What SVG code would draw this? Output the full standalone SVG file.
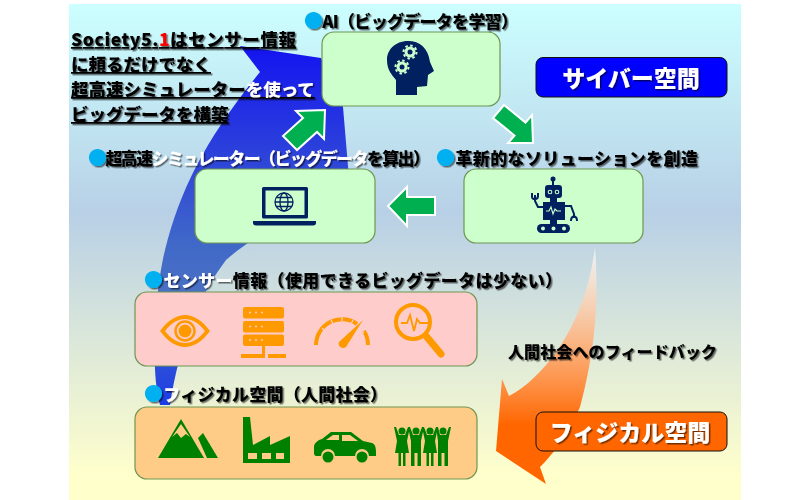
<svg xmlns="http://www.w3.org/2000/svg" width="800" height="500" viewBox="0 0 800 500">
<style>
text{font-family:"Noto Sans CJK JP","Noto Sans",sans-serif;font-weight:900;fill:#000}
.t{font-size:17px;filter:url(#sh)}
.lead{font-size:17.5px;filter:url(#sh);text-decoration:underline}
.dot{fill:#00b0f0;font-size:19px}
.w{fill:#fff}
.box{stroke:#6f9650;stroke-width:1.2}
.arrow{fill:#00b050;stroke:#fff;stroke-width:2}
.navy{fill:#002060}
.or{fill:#ff9900}
.gr{fill:#008000}
</style>
<defs>
<linearGradient id="bg" x1="0" y1="0" x2="0" y2="1"><stop offset="0" stop-color="#ccffff"/><stop offset=".42" stop-color="#b8d0e6"/><stop offset=".95" stop-color="#ffffcc"/></linearGradient>
<linearGradient id="blue" x1="0" y1="0" x2="0" y2="1"><stop offset="0" stop-color="#1414f0"/><stop offset=".55" stop-color="#4068c8"/><stop offset=".68" stop-color="#4a70c4"/><stop offset="1" stop-color="#1c3ce4"/></linearGradient>
<linearGradient id="orange" x1="0" y1="0" x2="0" y2="1"><stop offset="0" stop-color="#fff" stop-opacity=".7"/><stop offset=".75" stop-color="#ff6600"/><stop offset="1" stop-color="#ff6600"/></linearGradient>
<filter id="sh" x="-5%" y="-20%" width="110%" height="150%"><feDropShadow dx="1.5" dy="1.5" stdDeviation=".7" flood-color="#000" flood-opacity=".55"/></filter>
</defs>
<rect width="800" height="500" fill="#fff"/>
<rect x="69" y="4" width="672" height="496" fill="url(#bg)"/>
<g id="connectors">
<path d="M240 46L321 58L343 107L350 190C320 200 260 230 226 260C200 295 180 340 170 405L160 405C150 370 155 290 165 250C180 190 205 140 260 72Z" fill="url(#blue)"/>
<path d="M595 247C598 290 598 340 580 407C568 435 552 455 540 467L546 484L496 451L502 379L509 396C540 380 585 330 595 247Z" fill="url(#orange)"/>
<polygon class="arrow" points="325,110 324,139 317,132 297,150 283,136 303,118 296,111"/>
<polygon class="arrow" points="533,143 532,115 525.5,122.500 504,105 493,118 514.500,135.500 508,143"/>
<polygon class="arrow" points="388,206 407,187 407,197 435,197 435,215 407,215 407,226"/>
</g>
<g id="node-ai">
<rect class="box" x="322" y="32" width="178" height="74" rx="12" fill="#ccffcc"/>
<path class="navy" d="M396 95L417 95L417 87L427 86L428 75L434 71L430 62C428 48 420 41 408 41C395 41 387 50 387 60C387 70 392 75 396 80Z"/>
<g fill="#ccffcc"><circle cx="410" cy="52" r="5.500"/><circle cx="402" cy="67" r="5.500"/></g>
<g fill="none" stroke="#ccffcc" stroke-width="2" stroke-dasharray="2.500 2.500"><circle cx="410" cy="52" r="6.500"/><circle cx="402" cy="67" r="6.500"/></g>
<circle class="navy" cx="410" cy="52" r="2.500"/><circle class="navy" cx="402" cy="67" r="2.500"/>
<text class="t" x="304" y="28" textLength="214"><tspan class="dot">●</tspan>AI（ビッグデータを学習）</text>
</g>
<g id="node-sim">
<rect class="box" x="195" y="169" width="180" height="74" rx="12" fill="#ccffcc"/>
<rect class="navy" x="262" y="187" width="46" height="31.500" rx="1.500"/>
<rect x="265.500" y="190.500" width="39" height="24.500" fill="#ccffcc"/>
<path class="navy" d="M253 221H316V223C316 224.500 315 225.500 313 225.500H256C254 225.500 253 224.500 253 223Z"/>
<g fill="none" stroke="#002060" stroke-width="1.300"><circle cx="284" cy="202" r="9"/><ellipse cx="284" cy="202" rx="4" ry="9"/><path d="M275 202H293M276.500 197.500H291.500M276.500 206.500H291.500"/></g>
<text class="t" x="88" y="165" textLength="342"><tspan class="dot">●</tspan>超高速<tspan class="w">シミュレーター（ビッグデータ</tspan>を算出）</text>
</g>
<g id="node-solution">
<rect class="box" x="464" y="169" width="179" height="74" rx="12" fill="#ccffcc"/>
<g class="navy">
<circle cx="553" cy="179" r="2.500"/><rect x="552" y="180" width="2" height="6"/>
<rect x="545" y="185" width="17" height="13" rx="3"/>
<rect x="543" y="202" width="22" height="18"/>
<rect x="537" y="224" width="33" height="9" rx="4.500"/>
<rect x="550" y="198" width="7" height="4"/>
<rect x="550" y="220" width="7" height="4"/>
</g>
<g fill="none" stroke="#002060" stroke-width="2"><path d="M543 207H538L535 201V195M532 193V197C532 200 538 200 538 196V193"/><path d="M565 206H571L574 214V218M571 221C571 215 577 215 577 221"/></g>
<g fill="none" stroke="#ccffcc" stroke-width="1.100"><circle cx="550" cy="192" r="1.800"/><circle cx="557" cy="192" r="1.800"/><path d="M546 211H549L551 207L553 214L555 209L557 211H561"/></g>
<g fill="#ccffcc"><circle cx="543" cy="228.500" r="2"/><circle cx="553.500" cy="228.500" r="2"/><circle cx="564" cy="228.500" r="2"/></g>
<text class="t" x="436" y="165" textLength="262"><tspan class="dot">●</tspan>革新的なソリューションを創造</text>
</g>
<g id="node-sensor">
<rect class="box" x="135" y="292" width="342" height="74" rx="12" fill="#ffcccc"/>
<path class="or" d="M160 331C168 320 177 315 185 315C193 315 202 320 210 331C202 342 193 347 185 347C177 347 168 342 160 331ZM165 331C171 339 178 343 185 343C192 343 199 339 205 331C199 323 192 319 185 319C178 319 171 323 165 331Z"/>
<circle cx="185" cy="331" r="9.500" fill="none" stroke="#ff9900" stroke-width="2.500"/><circle class="or" cx="185" cy="331" r="6.500"/>
<g class="or"><rect x="243" y="307" width="41" height="11.500" rx="2"/><rect x="243" y="321" width="41" height="11.500" rx="2"/><rect x="243" y="334.500" width="41" height="11.500" rx="2"/><rect x="262" y="346" width="3" height="8"/><rect x="241" y="354" width="21" height="4"/><rect x="262" y="354" width="3" height="4"/><rect x="268" y="354" width="18" height="4"/></g>
<g fill="#ffcccc"><circle cx="250" cy="312.500" r="1"/><circle cx="256" cy="312.500" r="1"/><circle cx="262" cy="312.500" r="1"/><circle cx="250" cy="326.500" r="1"/><circle cx="256" cy="326.500" r="1"/><circle cx="262" cy="326.500" r="1"/><circle cx="250" cy="340" r="1"/><circle cx="256" cy="340" r="1"/><circle cx="262" cy="340" r="1"/></g>
<path d="M316 345A26 26 0 0 1 357 324M364 331A26 26 0 0 1 368 345" fill="none" stroke="#ff9900" stroke-width="4"/>
<path d="M322 328L325 331M331 320L333 324M342 317V321M353 320L351 324M364 332L361 334" stroke="#ffcccc" stroke-width="1.200"/>
<path d="M339 342L363 320L346 347C343 350 337 346 339 342Z" class="or"/>
<text class="t" x="144" y="287" textLength="418"><tspan class="dot">●</tspan><tspan class="w">センサー</tspan>情報（使用できるビッグデータは少ない）</text>
<circle cx="413" cy="322" r="17" fill="none" stroke="#ff9900" stroke-width="4"/>
<path d="M426 336L441 354" stroke="#ff9900" stroke-width="7" stroke-linecap="round"/>
<path d="M401 323H407L410 315L414 331L417 319L420 323H428" fill="none" stroke="#ff9900" stroke-width="1.800"/>
</g>
<g id="node-physical">
<rect class="box" x="135" y="407" width="342" height="72" rx="12" fill="#ffcc88"/>
<path class="gr" d="M158 458L181 419L204 458Z"/>
<path d="M181 424L190 437L186 434L181 438L177 433L172 437Z" fill="#ffcc88"/>
<path class="gr" d="M203 433L218 458H207L198 438Z"/>
<path class="gr" d="M243 463V417H250L253 445L270 436V445L290 436V463Z"/>
<g fill="#ffcc88"><rect x="248" y="453" width="9" height="6"/><rect x="262" y="453" width="9" height="6"/><rect x="276" y="453" width="8" height="6"/></g>
<path class="gr" d="M314 447C314 443 318 440 322 439L331 432H351L363 441L372 443C375 444 376 447 376 452V456H369A7 7 0 0 0 355 456H335A7 7 0 0 0 321 456H316C315 456 314 455 314 453Z"/>
<g fill="#ffcc88"><path d="M326 440L333 435H339V440Z"/><path d="M342 435H350L358 441H342Z"/></g>
<circle class="gr" cx="328" cy="457" r="5.500"/><circle class="gr" cx="362" cy="457" r="5.500"/>
<g class="gr">
<circle cx="402" cy="431" r="3.500"/><path d="M394 427L396 427L399 435H405L408 427L410 427L407 441L409 453H405.500V466H403V453H401V466H398.500V453H395L397 441Z"/>
<path d="M408 427L410 427L413 435H419L422 427L424 427L421 441V466H417.500V453H414.500V466H411V441Z"/>
<circle cx="416" cy="431" r="3.500"/>
<path d="M422 427L424 427L427 435H433L436 427L438 427L435 441L437 453H433.500V466H431V453H429V466H426.500V453H423L425 441Z"/>
<circle cx="430" cy="431" r="3.500"/>
<path d="M436 427L438 427L440 435H446L449 427L451 427L448 441V466H444.500V453H441.500V466H438V441Z"/>
<circle cx="443" cy="431" r="3.500"/>
</g>
<text class="t" x="144" y="401" textLength="243"><tspan class="dot">●</tspan><tspan class="w">フ</tspan>ィジカル空間（人間社会）</text>
</g>
<g id="legend-cyber">
<rect x="536" y="57.500" width="191" height="39.500" rx="7" fill="#0000ff" stroke="#111" stroke-width="1"/>
<text x="631" y="87" text-anchor="middle" font-size="23" class="w" style="filter:url(#sh)">サイバー空間</text>
</g>
<g id="legend-physical">
<rect x="536" y="412" width="191" height="39" rx="7" fill="#ff6600" stroke="#111" stroke-width="1"/>
<text x="630" y="441" text-anchor="middle" font-size="23" class="w" style="filter:url(#sh)">フィジカル空間</text>
</g>
<g id="caption">
<text class="lead" x="71" y="46" textLength="225">Society5.<tspan style="fill:#f00">1</tspan>はセンサー情報</text>
<text class="lead" x="71" y="71">に頼るだけでなく</text>
<text class="lead" x="71" y="96">超高速シミュレーター<tspan class="w">を使って</tspan></text>
<text class="lead" x="71" y="121">ビッグデータを構築</text>
<text class="t" x="508" y="358" textLength="209" style="font-size:16px">人間社会へのフィードバック</text>
</g>
</svg>
